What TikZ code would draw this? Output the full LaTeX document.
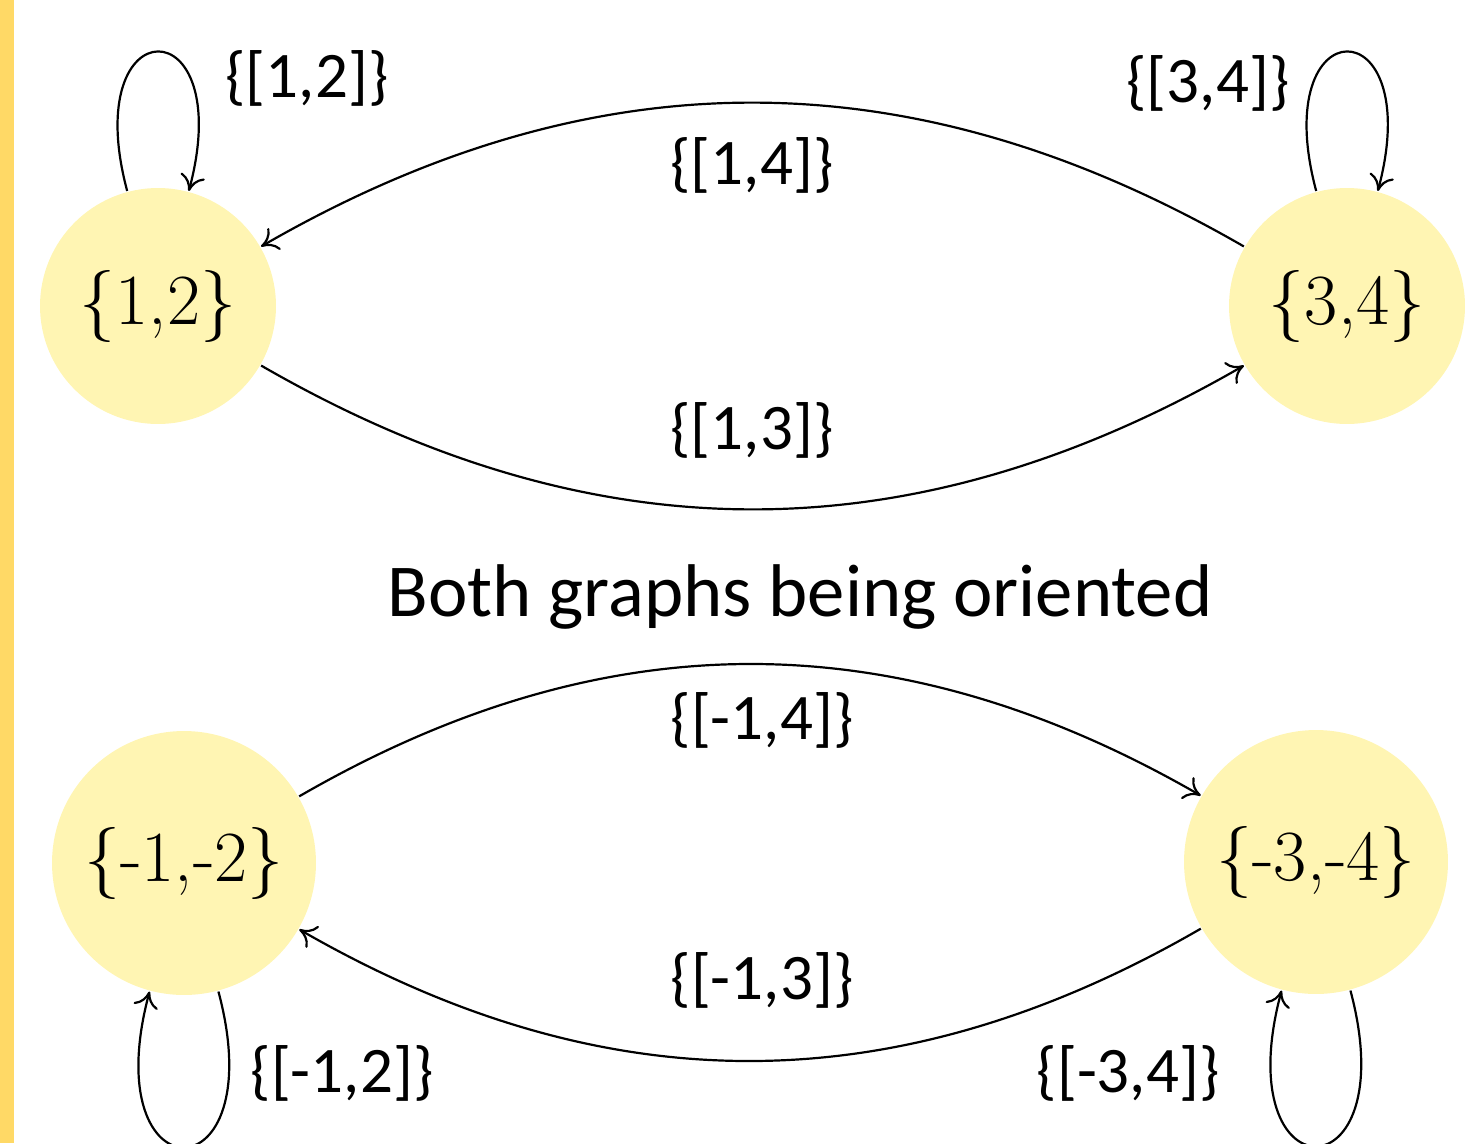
\documentclass[tikz,border=0pt]{standalone}
\usepackage{fontspec}
\usepackage{tikz}
\usetikzlibrary{arrows.meta}
\newfontfamily\calibri{Carlito}
\definecolor{statefill}{HTML}{FFF5B3}
\definecolor{sidebar}{HTML}{FFD966}

\begin{document}
\begin{tikzpicture}[x=0.02cm,y=-0.02cm,
        >={Computer Modern Rightarrow[length=3.2mm,width=5mm]},
        every path/.style={line width=1.25pt},
        state/.style={circle,fill=statefill,inner sep=0pt,font=\fontsize{41}{49}\selectfont},
        small/.style={state,minimum size=4.72cm},
        big/.style={state,minimum size=5.28cm},
        lbl/.style={inner sep=0pt,font=\calibri\fontsize{37}{44}\selectfont}]
        \useasboundingbox (0,0) rectangle (1470,1143);
        \fill[sidebar] (0,0) rectangle (14,1143);

        % oriented graph on positive vertices
        \node[small] (n12) at (158,306) {\{1,2\}};
        \node[small] (n34) at (1347,306) {\{3,4\}};
        \draw[->] (n34) to[bend right=30] (n12);
        \draw[->] (n12) to[bend right=30] (n34);
        \draw[->] (n12) to[loop above] (n12);
        \draw[->] (n34) to[loop above] (n34);
        \node[lbl] (l14) at (752,165) {\{[1,4]\}};
        \node[lbl] (l13) at (752,430) {\{[1,3]\}};
        \node[lbl] (l12) at (307,78) {\{[1,2]\}};
        \node[lbl] (l34) at (1208,83) {\{[3,4]\}};

        \node[lbl,font=\calibri\fontsize{42.5}{50}\selectfont] (title) at (800,597) {Both graphs being oriented};

        % oriented graph on negative vertices
        \node[big] (m12) at (184,863) {\{-1,-2\}};
        \node[big] (m34) at (1316,862) {\{-3,-4\}};
        \draw[->] (m12) to[bend left=30] (m34);
        \draw[->] (m34) to[bend left=30] (m12);
        \draw[->] (m12) to[out=285,in=255,loop] (m12);
        \draw[->] (m34) to[out=285,in=255,loop] (m34);
        \node[lbl] (lm14) at (762,720) {\{[-1,4]\}};
        \node[lbl] (lm13) at (762,980) {\{[-1,3]\}};
        \node[lbl] (lm12) at (342,1073) {\{[-1,2]\}};
        \node[lbl] (lm34) at (1128,1073) {\{[-3,4]\}};
\end{tikzpicture}
\end{document}
